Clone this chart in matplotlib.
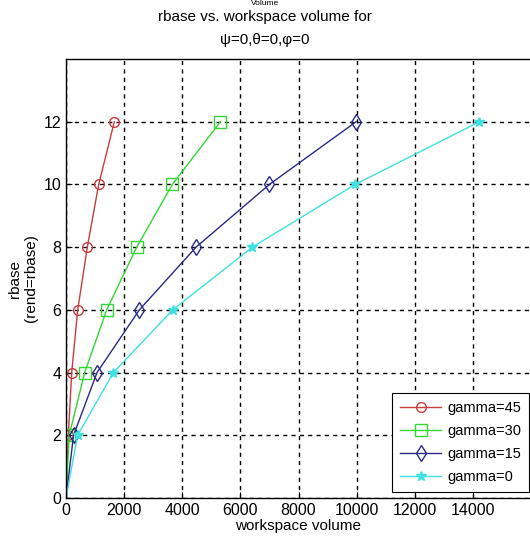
import matplotlib
matplotlib.use("Agg")
import matplotlib.pyplot as plt
from matplotlib import font_manager

# values (workspace volume at each rbase)
rbase = [0, 2, 4, 6, 8, 10, 12]
vol_g45 = [0, 80, 196, 403, 734, 1125, 1663]
vol_g30 = [0, 110, 643, 1400, 2433, 3660, 5312]
vol_g15 = [0, 260, 1067, 2524, 4475, 7000, 9983]
vol_g0 = [0, 400, 1630, 3673, 6413, 9950, 14227]
labels = ["gamma=45", "gamma=30", "gamma=15", "gamma=0"]

names = {f.name for f in font_manager.fontManager.ttflist}
fam = ["Liberation Sans Narrow"] if "Liberation Sans Narrow" in names else ["Liberation Sans"]
fam += ["DejaVu Sans"]
plt.rcParams["font.family"] = fam

fig = plt.figure(figsize=(5.30, 5.44), dpi=100)
ax = fig.add_axes([66 / 530, 46 / 544, 465 / 530, 439 / 544])

styles = [
    dict(color="#c83c3c", marker="o", mfc="none", ms=7),
    dict(color="#33d633", marker="s", mfc="none", ms=8),
    dict(color="#2a2a86", marker="d", mfc="none", ms=8),
    dict(color="#3ee0e0", marker="*", ms=7),
]
for v, lab, st in zip([vol_g45, vol_g30, vol_g15, vol_g0], labels, styles):
    ax.plot(v, rbase, lw=1, label=lab, markevery=list(range(1, len(rbase))), **st)

ax.set_xlim(0, 16000)
ax.set_ylim(0, 14)
ax.set_xticks(range(0, 16000, 2000))
ax.set_yticks(range(0, 14, 2))
ax.grid(True, color="black", linestyle=(0, (3, 3)), lw=1)
ax.tick_params(labelsize=11.5, direction="in", length=4)
for s in ax.spines.values():
    s.set_linewidth(1)

ax.set_xlabel("workspace volume", fontsize=11, labelpad=1)
ax.set_ylabel("rbase\n(rend=rbase)", fontsize=11, labelpad=4)

fig.text(0.5, 1 - 17 / 544, "rbase vs. workspace volume for", ha="center", va="center", fontsize=11)
fig.text(0.5, 1 - 40 / 544, "\u03c8=0,\u03b8=0,\u03c6=0", ha="center", va="center", fontsize=11)
fig.text(0.5, 1.0, "Volume", ha="center", va="top", fontsize=6)

leg = ax.legend(loc="lower right", bbox_to_anchor=(1 - 2 / 465, 6 / 439), fontsize=10.5,
                frameon=True, fancybox=False, edgecolor="black", framealpha=1,
                borderaxespad=0, handlelength=2.8, handletextpad=0.4,
                labelspacing=0.62, borderpad=0.55)
leg.get_frame().set_linewidth(0.8)

fig.savefig("out.png", dpi=100)
